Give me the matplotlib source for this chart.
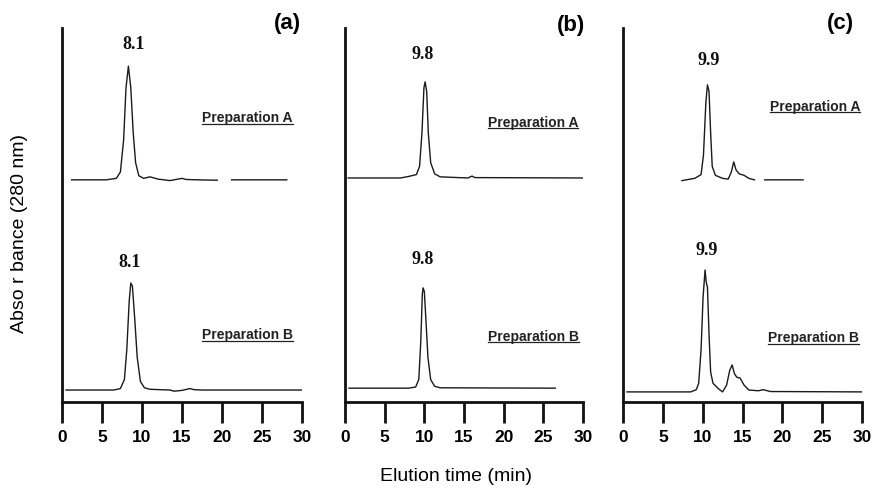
import numpy as np
import matplotlib
matplotlib.use("Agg")
import matplotlib.pyplot as plt
from matplotlib.lines import Line2D

nan = np.nan

# ---- data (elution time in min, absorbance in arbitrary units) ----
aA_t = [1.2, 5.5, 6.8, 7.3, 7.7, 8.0, 8.3, 8.6, 8.9, 9.2, 9.6, 10.2, 11.0, 12.0, 13.5, 15.0, 15.5, 17.0, 19.4, nan, 21.2, 28.1]
aA_y = [59.4, 59.4, 59.8, 61.5, 70, 84, 89.8, 84, 72, 64, 60.5, 59.8, 60.2, 59.6, 59.2, 59.8, 59.5, 59.4, 59.3, nan, 59.4, 59.4]

aB_t = [0.5, 6.5, 7.3, 7.8, 8.1, 8.4, 8.6, 8.8, 9.1, 9.4, 9.8, 10.3, 11.0, 13.5, 14.0, 15.0, 16.0, 16.5, 17.5, 30.0]
aB_y = [3.2, 3.2, 3.6, 6, 14, 27, 31.8, 31, 22, 12, 5.5, 3.8, 3.4, 3.2, 2.9, 3.1, 3.6, 3.3, 3.2, 3.2]

bA_t = [0.4, 7.0, 8.0, 9.0, 9.4, 9.7, 9.95, 10.1, 10.3, 10.5, 10.8, 11.3, 12.0, 15.5, 16.0, 16.4, 30.0]
bA_y = [59.9, 59.9, 60.3, 60.8, 63, 72, 84, 85.6, 83, 72, 64, 61, 60.2, 59.9, 60.4, 60.0, 59.9]

bB_t = [0.5, 8.0, 8.9, 9.3, 9.55, 9.75, 9.85, 10.0, 10.2, 10.45, 10.8, 11.3, 12.0, 26.5]
bB_y = [3.7, 3.7, 4.0, 6, 16, 29, 30.5, 29.5, 22, 12, 6, 4.2, 3.8, 3.7]

cA_t = [7.4, 9.0, 9.8, 10.1, 10.4, 10.6, 10.8, 11.0, 11.2, 11.6, 12.5, 13.2, 13.6, 13.9, 14.2, 14.6, 15.2, 15.8, 16.5, nan, 17.8, 22.6]
cA_y = [59.2, 59.8, 60.8, 66, 80, 84.8, 83, 72, 63, 60.6, 59.8, 59.6, 61.5, 64.2, 62, 61, 60.6, 59.8, 59.4, nan, 59.4, 59.4]

cB_t = [0.5, 8.5, 9.2, 9.5, 9.8, 10.05, 10.3, 10.45, 10.6, 10.8, 11.0, 11.3, 12.0, 12.5, 13.0, 13.4, 13.7, 14.0, 14.3, 14.7, 15.2, 15.8, 17.0, 17.6, 18.5, 30.0]
cB_y = [2.7, 2.7, 3.3, 5, 14, 28, 35.3, 32, 30.7, 18, 8, 5, 3.5, 2.7, 4.5, 8.5, 9.9, 7.5, 6.6, 6.4, 4.5, 3.2, 3.0, 3.3, 2.8, 2.7]

peak_labels = ["8.1", "9.8", "9.9"]
panel_labels = ["(a)", "(b)", "(c)"]
prep_labels = ["Preparation A", "Preparation B"]
xticks = [0, 5, 10, 15, 20, 25, 30]

traces = [((aA_t, aA_y), (aB_t, aB_y)),
          ((bA_t, bA_y), (bB_t, bB_y)),
          ((cA_t, cA_y), (cB_t, cB_y))]

# ---- layout ----
W, H = 875, 494
fig = plt.figure(figsize=(W / 100, H / 100), dpi=100)
lefts = [62, 345, 623]
widths = [240, 238, 239]
bottom_px, top_px = 402, 28

peak_pos = [((8.9, 95.5), (8.5, 37.2)),
            ((9.8, 92.8), (9.8, 38.0)),
            ((10.7, 91.4), (10.5, 40.6))]
prep_pos = [((17.5, 75.9), (17.5, 17.9)),
            ((18.0, 74.6), (18.0, 17.4)),
            ((18.4, 78.9), (18.2, 17.1))]
panel_pos = [(287, 24), (571, 25), (840, 24)]

prep_texts = []
for i in range(3):
    ax = fig.add_axes([lefts[i] / W, 1 - bottom_px / H, widths[i] / W, (bottom_px - top_px) / H])
    ax.set_xlim(0, 30)
    ax.set_ylim(0, 100)
    for s in ["top", "right"]:
        ax.spines[s].set_visible(False)
    for s in ["left", "bottom"]:
        ax.spines[s].set_linewidth(2.0)
        ax.spines[s].set_color("#111111")
    ax.set_yticks([])
    ax.set_xticks(xticks)
    ax.tick_params(axis="x", direction="out", length=15, width=2.0, pad=5, color="#111111")
    for lab in ax.get_xticklabels():
        lab.set_fontfamily("Liberation Sans")
        lab.set_fontweight("bold")
        lab.set_fontsize(12.5)
    for k, (t, y) in enumerate(traces[i]):
        ax.plot(t, y, color="#1a1a1a", lw=1.0)
        px, py = peak_pos[i][k]
        ax.text(px, py, peak_labels[i], ha="center", va="center", fontsize=13,
                fontweight="bold", family="Liberation Serif", color="#111111")
        qx, qy = prep_pos[i][k]
        tt = ax.text(qx, qy, prep_labels[k], ha="left", va="center", fontsize=10,
                     fontweight="bold", family="Liberation Sans", color="#222222")
        prep_texts.append(tt)
    fig.text(panel_pos[i][0] / W, 1 - panel_pos[i][1] / H, panel_labels[i],
             ha="center", va="center", fontsize=16, fontweight="bold", family="Liberation Sans")

fig.text(20 / W, 1 - 233 / H, "Abso r bance (280 nm)", rotation=90, ha="center", va="center",
         fontsize=14, family="Liberation Sans")
fig.text(456 / W, 1 - 476 / H, "Elution time (min)", ha="center", va="center",
         fontsize=14, family="Liberation Sans")

# underline preparation labels
fig.canvas.draw()
r = fig.canvas.get_renderer()
inv = fig.transFigure.inverted()
for tt in prep_texts:
    bb = tt.get_window_extent(renderer=r)
    (x0, y0), (x1, y1) = inv.transform([(bb.x0, bb.y0 + 1.5), (bb.x1, bb.y0 + 1.5)])
    fig.add_artist(Line2D([x0, x1], [y0, y1], transform=fig.transFigure, color="#222222", lw=0.9))

fig.savefig("out.png", dpi=100)
